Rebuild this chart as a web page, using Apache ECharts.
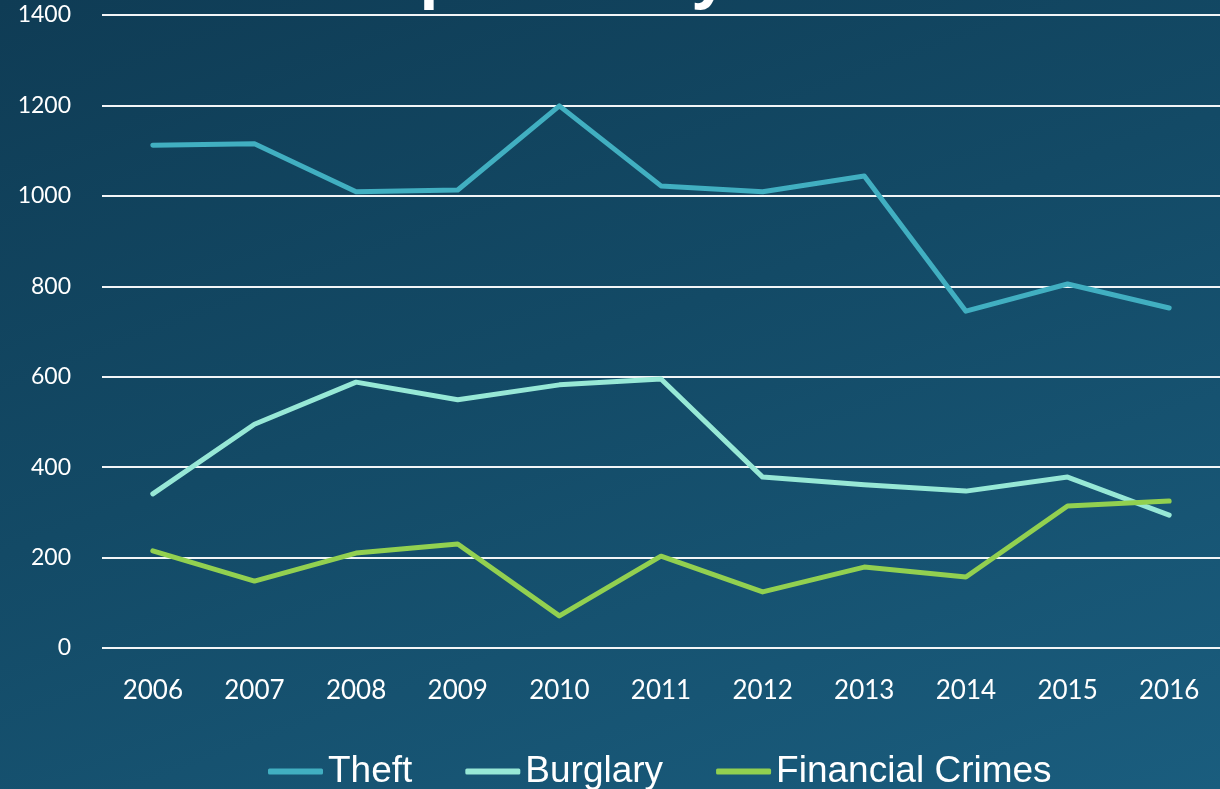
<!DOCTYPE html>
<html>
<head>
<meta charset="utf-8">
<script src="https://cdn.jsdelivr.net/npm/echarts@6/dist/echarts.min.js"></script>
<style>
  html, body { margin: 0; padding: 0; }
  #chart {
    width: 1220px; height: 789px;
    background: linear-gradient(160deg, #0f3c55 0%, #134a66 45%, #1a5d7e 100%);
  }
</style>
</head>
<body>
<div id="chart"></div>
<script>
var years = ["2006", "2007", "2008", "2009", "2010", "2011", "2012", "2013", "2014", "2015", "2016"];
var theft = [1112, 1115, 1009, 1013, 1199, 1022, 1009, 1044, 745, 805, 752];
var burglary = [341, 495, 588, 549, 582, 595, 378, 361, 347, 378, 294];
var financialCrimes = [215, 148, 210, 230, 71, 203, 124, 179, 157, 314, 325];

var myChart = echarts.init(document.getElementById("chart"));

function lineSeries(name, data, color) {
  return {
    name: name,
    type: "line",
    data: data,
    symbol: "none",
    lineStyle: { width: 5, color: color, cap: "round", join: "round" },
    itemStyle: { color: color },
  };
}

var option = {
  backgroundColor: "transparent",
  title: {
    text: "Crimes Reported by Year",
    left: 78,
    top: -62,
    textStyle: { color: "#fff", fontSize: 68, fontWeight: "bold", fontFamily: "Liberation Sans" },
  },
  legend: {
    left: 263,
    bottom: -6,
    itemWidth: 55,
    itemHeight: 6,
    itemGap: 53,
    icon: "roundRect",
    textStyle: { color: "#fff", fontSize: 37, fontFamily: "Liberation Sans" },
    data: ["Theft", "Burglary", "Financial Crimes"],
  },
  grid: { left: 102, right: -3, top: 15, bottom: 141 },
  xAxis: {
    type: "category",
    data: years,
    axisLine: { show: false },
    axisTick: { show: false },
    axisLabel: { color: "#fff", fontSize: 26, margin: 30, fontFamily: "Lato" },
  },
  yAxis: {
    type: "value",
    min: 0,
    max: 1400,
    interval: 200,
    axisLine: { show: false },
    axisTick: { show: false },
    axisLabel: {
      color: "#fff", fontSize: 23, margin: 31, fontFamily: "Lato",
      formatter: function (v) { return String(v); },
    },
    splitLine: { lineStyle: { color: "#f2f5f7", width: 2 } },
  },
  series: [
    lineSeries("Theft", theft, "#41afc1"),
    lineSeries("Burglary", burglary, "#97e8d6"),
    lineSeries("Financial Crimes", financialCrimes, "#92d050"),
  ],
};

myChart.setOption(option);
</script>
</body>
</html>
